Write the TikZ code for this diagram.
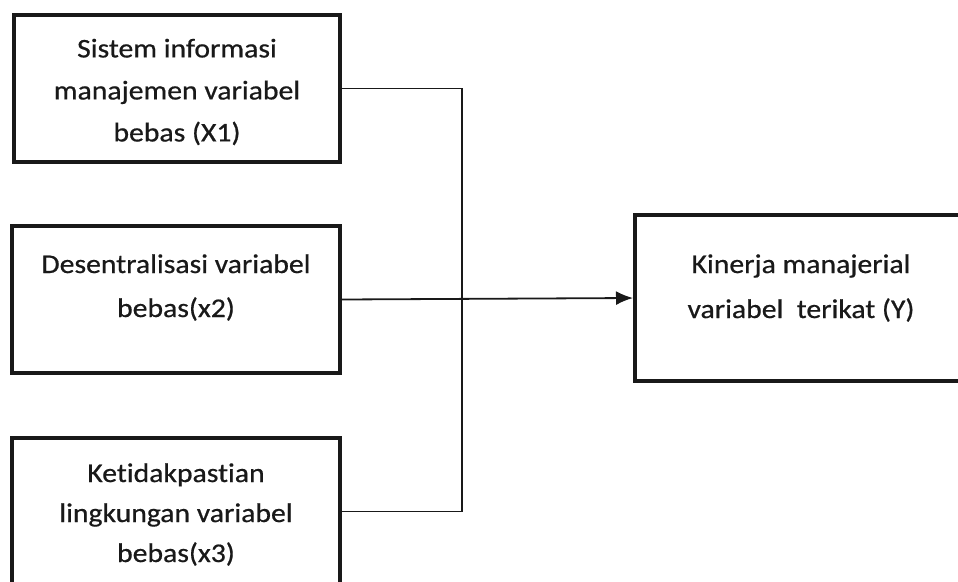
\documentclass[tikz,border=0pt]{standalone}
\usepackage{fontspec}
\setmainfont[FakeStretch=1.1, FakeBold=0.6, Ligatures={NoCommon}]{Carlito}
\usetikzlibrary{arrows.meta}
\begin{document}
\begin{tikzpicture}[x=1pt,y=-1pt,
  box/.style={draw=black!90, line width=4pt, fill=none, inner sep=0pt},
  label/.style={align=center, text=black!90, inner sep=0pt},
  conn/.style={draw=black!90, line width=1.8pt},
  arr/.style={conn, -{Latex[length=17pt,width=14pt]}}]
\useasboundingbox (0,0) rectangle (958,581);
\fill[white] (0,0) rectangle (958,581);
% boxes
\node[box, minimum width=326pt, minimum height=147pt] (b1) at (177,88.5) {};
\node[box, minimum width=328pt, minimum height=147pt] (b2) at (176,299.5) {};
\node[box, minimum width=328pt, minimum height=147pt] (b3) at (176,511.5) {};
\node[box, minimum width=332pt, minimum height=166pt] (b4) at (801,298) {};
% texts
\node[label, font=\fontsize{27}{42}\selectfont] (t1) at (177,92) {Sistem informasi\\manajemen variabel\\bebas (X1)};
\node[label, font=\fontsize{27}{44}\selectfont] (t2) at (176,287.5) {Desentralisasi variabel\\bebas(x2)};
\node[label, font=\fontsize{27}{40}\selectfont] (t3) at (176,514.5) {Ketidakpastian\\lingkungan variabel\\bebas(x3)};
\node[label, font=\fontsize{27}{45}\selectfont] (t4) at (801,288) {Kinerja manajerial\\variabel\ \ terikat (Y)};
% connectors
\coordinate (j1) at (462,88.5);
\coordinate (j3) at (462,511.5);
\draw[conn] (b1.east) -- (j1) -- (j3) -- (b3.east);
\draw[arr] (b2.east) -- (b4.west);
\end{tikzpicture}
\end{document}
